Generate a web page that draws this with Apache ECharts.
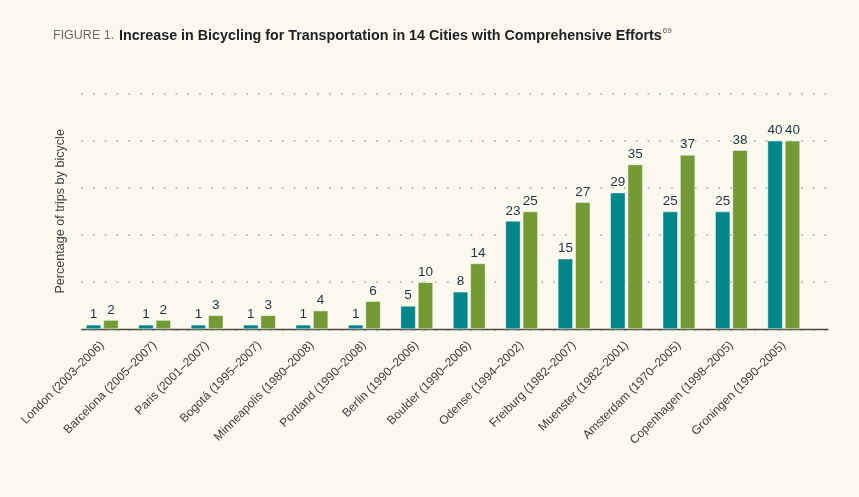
<!DOCTYPE html>
<html>
<head>
<meta charset="utf-8">
<script src="https://cdn.jsdelivr.net/npm/echarts@6/dist/echarts.min.js"></script>
<style>
html,body{margin:0;padding:0;background:#fbf9ee;}
#chart{width:859px;height:497px;}
</style>
</head>
<body>
<div id="chart"></div>
<script>
var cities = ["London (2003–2006)","Barcelona (2005–2007)","Paris (2001–2007)","Bogotá (1995–2007)","Minneapolis (1980–2008)","Portland (1990–2008)","Berlin (1990–2006)","Boulder (1990–2006)","Odense (1994–2002)","Freiburg (1982–2007)","Muenster (1982–2001)","Amsterdam (1970–2005)","Copenhagen (1998–2005)","Groningen (1990–2005)"];
var startValues = [1,1,1,1,1,1,5,8,23,15,29,25,25,40];
var endValues   = [2,2,3,3,4,6,10,14,25,27,35,37,38,40];
var yTicks = [0,10,20,30,40,50];

var FONT = '"Liberation Sans", Arial, Helvetica, sans-serif';
var chart = echarts.init(document.getElementById('chart'), null, {renderer:'canvas'});
var labelStyle = {show:true, position:'top', distance:3, color:'#1e3546', fontSize:13.5, fontFamily:FONT};
chart.setOption({
  backgroundColor:'#fbf9ee',
  animation:false,
  title:{
    left:48, top:22,
    text:'{a|FIGURE 1.} {b|Increase in Bicycling for Transportation in 14 Cities with Comprehensive Efforts}{c|69}',
    textStyle:{
      fontWeight:'normal',
      rich:{
        a:{fontSize:12.5, fontWeight:'normal', color:'#6a6a6a', fontFamily:FONT},
        b:{fontSize:14.3, fontWeight:'bold', color:'#222', fontFamily:FONT},
        c:{fontSize:8, fontWeight:'normal', color:'#555', fontFamily:FONT, verticalAlign:'top', padding:[0,0,9,1]}
      }
    }
  },
  grid:[
    {left:76, right:49, top:93.4, bottom:167.7},
    {left:82, right:31, top:93.4, bottom:167.7}
  ],
  xAxis:[
    {type:'category', gridIndex:0, data:cities,
     axisLine:{show:false}, axisTick:{show:false},
     axisLabel:{interval:0, rotate:45, margin:14, fontSize:12, color:'#3c3c3c', fontFamily:FONT}},
    {type:'value', gridIndex:1, min:0, max:1,
     axisLine:{show:true, lineStyle:{color:'#4a4a44', width:1.3}},
     axisTick:{show:false}, axisLabel:{show:false}, splitLine:{show:false}}
  ],
  yAxis:[
    {type:'value', gridIndex:0, min:yTicks[0], max:yTicks[yTicks.length-1], interval:10,
     name:'Percentage of trips by bicycle', nameLocation:'middle', nameGap:9,
     nameTextStyle:{fontSize:12.6, color:'#444', fontFamily:FONT},
     axisLine:{show:false}, axisTick:{show:false}, axisLabel:{show:false}, splitLine:{show:false}},
    {type:'value', gridIndex:1, min:yTicks[0], max:yTicks[yTicks.length-1], interval:10,
     axisLine:{show:false}, axisTick:{show:false}, axisLabel:{show:false},
     splitLine:{show:true, lineStyle:{color:'#b9b9b0', width:2, type:[0.1,11.7], cap:'round'}}}
  ],
  series:[
    {type:'bar', xAxisIndex:0, yAxisIndex:0, data:startValues, barWidth:15.5, barGap:'12%',
     itemStyle:{color:'#00858a', borderColor:'rgba(255,255,255,0.45)', borderWidth:1},
     label:labelStyle},
    {type:'bar', xAxisIndex:0, yAxisIndex:0, data:endValues, barWidth:15.5, barGap:'12%',
     itemStyle:{color:'#739a34', borderColor:'rgba(255,255,255,0.45)', borderWidth:1},
     label:labelStyle}
  ]
});
</script>
</body>
</html>
